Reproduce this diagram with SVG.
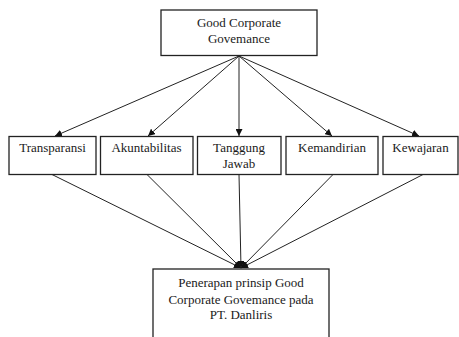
<svg xmlns="http://www.w3.org/2000/svg" width="459" height="337" viewBox="0 0 459 337">
<style>
.box{fill:#fff;stroke:#222;stroke-width:1.3}
.t{font-family:"Liberation Serif","Times New Roman",serif;font-size:13px;fill:#1a1a1a;text-anchor:middle}
.c{stroke:#222;stroke-width:1;fill:none;marker-end:url(#ah)}
</style>
<defs>
<marker id="ah" viewBox="0 0 10 10" refX="10" refY="5" markerWidth="7" markerHeight="7" markerUnits="userSpaceOnUse" orient="auto">
<path d="M0,0 L10,5 L0,10 z" fill="#111"/>
</marker>
</defs>
<rect width="459" height="337" fill="#fff"/>
<g id="connectors">
<line class="c" x1="239" y1="56" x2="55" y2="136"/>
<line class="c" x1="239" y1="56" x2="148" y2="136"/>
<line class="c" x1="239" y1="56" x2="239" y2="136"/>
<line class="c" x1="239" y1="56" x2="332" y2="136"/>
<line class="c" x1="239" y1="56" x2="419" y2="136"/>
<line class="c" x1="52" y1="174.5" x2="241" y2="268"/>
<line class="c" x1="147" y1="174.5" x2="241" y2="268"/>
<line class="c" x1="239" y1="174.5" x2="241" y2="268"/>
<line class="c" x1="333" y1="174.5" x2="241" y2="268"/>
<line class="c" x1="423" y1="174.5" x2="241" y2="268"/>
</g>
<g id="gcg">
<rect class="box" x="161" y="10" width="156" height="45.5"/>
<text class="t" x="239" y="27">Good Corporate</text>
<text class="t" x="239" y="42.5">Govemance</text>
</g>
<g id="transparansi">
<rect class="box" x="9" y="136.5" width="87" height="38"/>
<text class="t" x="52.5" y="152">Transparansi</text>
</g>
<g id="akuntabilitas">
<rect class="box" x="100.5" y="136.5" width="92.5" height="38"/>
<text class="t" x="146.5" y="152">Akuntabilitas</text>
</g>
<g id="tanggungjawab">
<rect class="box" x="197.5" y="136.5" width="83.5" height="38"/>
<text class="t" x="239" y="152">Tanggung</text>
<text class="t" x="239" y="167.5">Jawab</text>
</g>
<g id="kemandirian">
<rect class="box" x="286" y="136.5" width="92" height="38"/>
<text class="t" x="332" y="152">Kemandirian</text>
</g>
<g id="kewajaran">
<rect class="box" x="383" y="136.5" width="75" height="38"/>
<text class="t" x="420.5" y="152">Kewajaran</text>
</g>
<g id="penerapan">
<rect class="box" x="153" y="269" width="176" height="90"/>
<text class="t" x="241" y="286.5">Penerapan prinsip Good</text>
<text class="t" x="241" y="303.5">Corporate Govemance pada</text>
<text class="t" x="241" y="318.5">PT. Danliris</text>
</g>
</svg>
